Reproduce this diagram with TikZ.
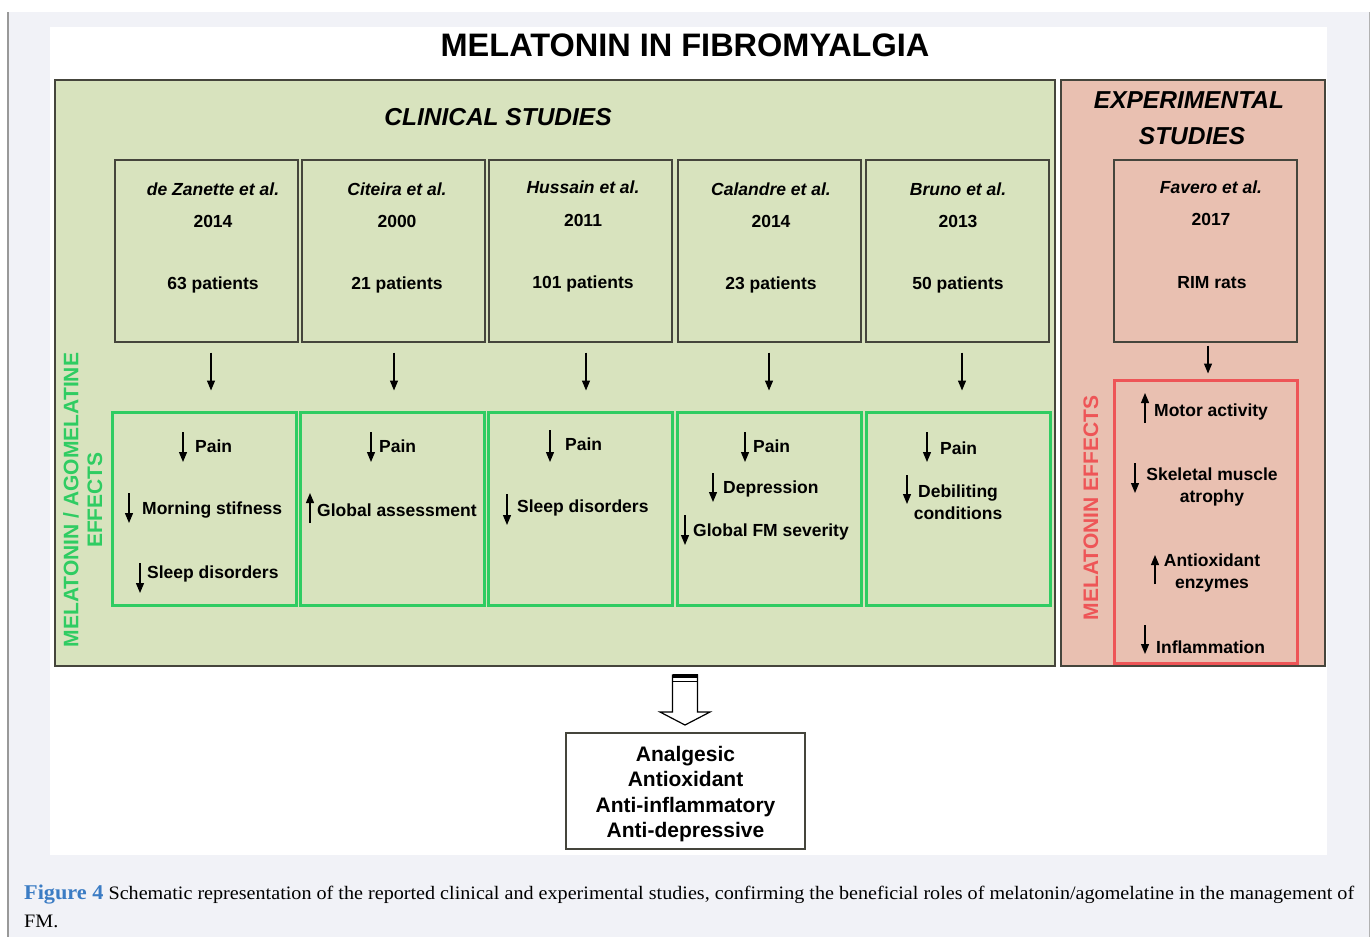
\documentclass[tikz,border=0pt]{standalone}
\usepackage{fontspec}
\setmainfont{Liberation Sans}
\newfontfamily\capfont{Liberation Serif}
\usetikzlibrary{arrows.meta}
\definecolor{pagebg}{HTML}{F1F2F7}
\definecolor{clinfill}{HTML}{D8E3BE}
\definecolor{expfill}{HTML}{E9C0B1}
\definecolor{effgreen}{HTML}{2FCC62}
\definecolor{effred}{HTML}{EE5557}
\definecolor{capblue}{HTML}{3B7CC4}
\definecolor{framec}{HTML}{45453C}
\begin{document}
\begin{tikzpicture}[x=1pt,y=-1pt,
  panel/.style={draw=framec, line width=1.6pt, inner sep=0pt},
  studybox/.style={draw=framec, line width=1.3pt, inner sep=0pt, minimum width=183pt, minimum height=182pt},
  effbox/.style={draw=effgreen, line width=3pt, inner sep=0pt, minimum width=184pt, minimum height=193pt},
  auth/.style={font=\fontsize{17.5}{21}\selectfont\bfseries\itshape, inner sep=0pt},
  yr/.style={font=\fontsize{17.5}{21}\selectfont\bfseries, inner sep=0pt},
  eff/.style={font=\fontsize{17.5}{21.5}\selectfont\bfseries, inner sep=0pt, anchor=west},
  effc/.style={font=\fontsize{17.5}{21.5}\selectfont\bfseries, inner sep=0pt, align=center},
  flow/.style={line width=1.3pt, -{Triangle[length=10pt,width=8pt]}},
  sym/.style={line width=1.2pt, -{Triangle[length=10pt,width=8pt]}},
  vlab/.style={font=\fontsize{21}{25}\selectfont\bfseries, rotate=90, inner sep=0pt}
]
\useasboundingbox (0,0) rectangle (1372,937);
% page background
\fill[white] (0,0) rectangle (1372,937);
\fill[pagebg] (8,12) rectangle (1369,937);
\draw[gray!80, line width=1.4pt] (8,12) -- (8,937);
\draw[gray!60, line width=1pt] (1369,12) -- (1369,937);
\fill[white] (50,27) rectangle (1327,855);

% title
\node[font=\fontsize{32.5}{36}\selectfont\bfseries, inner sep=0pt] (title) at (685,45) {MELATONIN IN FIBROMYALGIA};

% panels
\node[panel, fill=clinfill, minimum width=1000pt, minimum height=586pt] (clin) at (555,373) {};
\node[panel, fill=expfill, minimum width=264pt, minimum height=586pt] (expp) at (1193,373) {};

\node[font=\fontsize{24.5}{28}\selectfont\bfseries\itshape, inner sep=0pt] (clint) at (498,117) {CLINICAL STUDIES};
\node[font=\fontsize{24.5}{36}\selectfont\bfseries\itshape, inner sep=0pt, align=center] (expt) at (1189,118) {EXPERIMENTAL\\\hspace*{6pt}STUDIES};

% study boxes
\node[studybox] (s1) at (206.5,251) {};
\node[studybox] (s2) at (393.5,251) {};
\node[studybox] (s3) at (580.5,251) {};
\node[studybox] (s4) at (769.5,251) {};
\node[studybox] (s5) at (957.5,251) {};
\node[studybox] (s6) at (1205.5,251) {};

\node[auth] (a1) at (213,189) {de Zanette et al.};
\node[yr] (y1) at (213,221) {2014};
\node[yr] (p1) at (213,285) {63 patients};
\node[auth] (a2) at (397,189) {Citeira et al.};
\node[yr] (y2) at (397,221) {2000};
\node[yr] (p2) at (397,285) {21 patients};
\node[auth] (a3) at (583,187) {Hussain et al.};
\node[yr] (y3) at (583,220) {2011};
\node[yr] (p3) at (583,284) {101 patients};
\node[auth] (a4) at (771,189) {Calandre et al.};
\node[yr] (y4) at (771,221) {2014};
\node[yr] (p4) at (771,285) {23 patients};
\node[auth] (a5) at (958,189) {Bruno et al.};
\node[yr] (y5) at (958,221) {2013};
\node[yr] (p5) at (958,285) {50 patients};
\node[auth] (a6) at (1211,187) {Favero et al.};
\node[yr] (y6) at (1211,219) {2017};
\node[yr] (p6) at (1212,283) {RIM rats};

% effect boxes
\node[effbox] (e1) at (204,508.5) {};
\node[effbox] (e2) at (392,508.5) {};
\node[effbox] (e3) at (580,508.5) {};
\node[effbox] (e4) at (769,508.5) {};
\node[effbox] (e5) at (958,508.5) {};
\node[draw=effred, line width=3pt, inner sep=0pt, minimum width=183pt, minimum height=283pt] (e6) at (1205.5,521.5) {};

% flow arrows
\coordinate (f1) at (211,0);
\coordinate (f2) at (394,0);
\coordinate (f3) at (586,0);
\coordinate (f4) at (769,0);
\coordinate (f5) at (962,0);
\coordinate (f6) at (1208,0);
\draw[flow, shorten <=10pt, shorten >=20pt] (s1.south -| f1) -- (e1.north -| f1);
\draw[flow, shorten <=10pt, shorten >=20pt] (s2.south -| f2) -- (e2.north -| f2);
\draw[flow, shorten <=10pt, shorten >=20pt] (s3.south -| f3) -- (e3.north -| f3);
\draw[flow, shorten <=10pt, shorten >=20pt] (s4.south -| f4) -- (e4.north -| f4);
\draw[flow, shorten <=10pt, shorten >=20pt] (s5.south -| f5) -- (e5.north -| f5);
\draw[flow, shorten <=3pt, shorten >=5pt] (s6.south -| f6) -- (e6.north -| f6);

% vertical labels
\node[vlab, text=effgreen] (vl1) at (71,500) {MELATONIN / AGOMELATINE};
\node[vlab, text=effgreen] (vl2) at (95,500) {EFFECTS};
\node[vlab, text=effred] (vl3) at (1091,508) {MELATONIN EFFECTS};

% box 1 effects
\node[eff] (t11) at (195,446) {Pain};
\draw[sym] (183,432) -- (183,462);
\node[eff] (t12) at (142,510) {Morning stifness};
\draw[sym] (129,493) -- (129,523);
\node[eff] (t13) at (147,574) {Sleep disorders};
\draw[sym] (140,563) -- (140,593);
% box 2
\node[eff] (t21) at (379,446) {Pain};
\draw[sym] (371,432) -- (371,462);
\node[eff] (t22) at (317,510) {Global assessment};
\draw[sym] (310,523) -- (310,493);
% box 3
\node[eff] (t31) at (565,444) {Pain};
\draw[sym] (550,430) -- (550,462);
\node[eff] (t32) at (517,508) {Sleep disorders};
\draw[sym] (507,494) -- (507,525);
% box 4
\node[eff] (t41) at (753,446) {Pain};
\draw[sym] (745,432) -- (745,462);
\node[eff] (t42) at (723,489) {Depression};
\draw[sym] (713,473) -- (713,502);
\node[eff] (t43) at (693,532) {Global FM severity};
\draw[sym] (685,515) -- (685,545);
% box 5
\node[eff] (t51) at (940,448) {Pain};
\draw[sym] (927,432) -- (927,462);
\node[effc] (t52) at (958,502) {Debiliting\\conditions};
\draw[sym] (907,475) -- (907,504);
% red box
\node[eff] (t61) at (1154,412) {Motor activity};
\draw[sym] (1145,423) -- (1145,393);
\node[effc] (t62) at (1212,487) {Skeletal muscle\\atrophy};
\draw[sym] (1135,463) -- (1135,493);
\node[effc] (t63) at (1212,573) {Antioxidant\\enzymes};
\draw[sym] (1155,584) -- (1155,555);
\node[eff] (t64) at (1156,647) {Inflammation};
\draw[sym] (1145,625) -- (1145,654);

% result box
\node[draw=framec, line width=1.3pt, fill=white, minimum width=239pt, minimum height=116pt, inner sep=0pt] (res) at (685.5,791) {};
\node[font=\fontsize{21}{25.5}\selectfont\bfseries, align=center, inner sep=0pt] (rest) at (685.5,794) {Analgesic\\Antioxidant\\Anti-inflammatory\\Anti-depressive};

% hollow arrow
\draw[line width=1.2pt, fill=white, line join=miter]
  (672.5,675) -- (672.5,712) -- (660,712) -- (685,725) -- (710,712) -- (697.5,712) -- (697.5,675) -- cycle;
\fill[black] (672.5,674) rectangle (697.5,678);
\draw[line width=1.2pt] (672.5,681.5) -- (697.5,681.5);

% caption
\node[anchor=west, inner sep=0pt, font=\capfont\fontsize{19}{22}\selectfont] (cap1) at (24,895)
  {\scalebox{1.06}[1]{{\bfseries\color{capblue}\fontsize{21}{22}\selectfont Figure 4} Schematic representation of the reported clinical and experimental studies, confirming the beneficial roles of melatonin/agomelatine in the management of}};
\node[anchor=west, inner sep=0pt, font=\capfont\fontsize{19}{22}\selectfont] (cap2) at (24,921) {\scalebox{1.06}[1]{FM.}};
\end{tikzpicture}
\end{document}
